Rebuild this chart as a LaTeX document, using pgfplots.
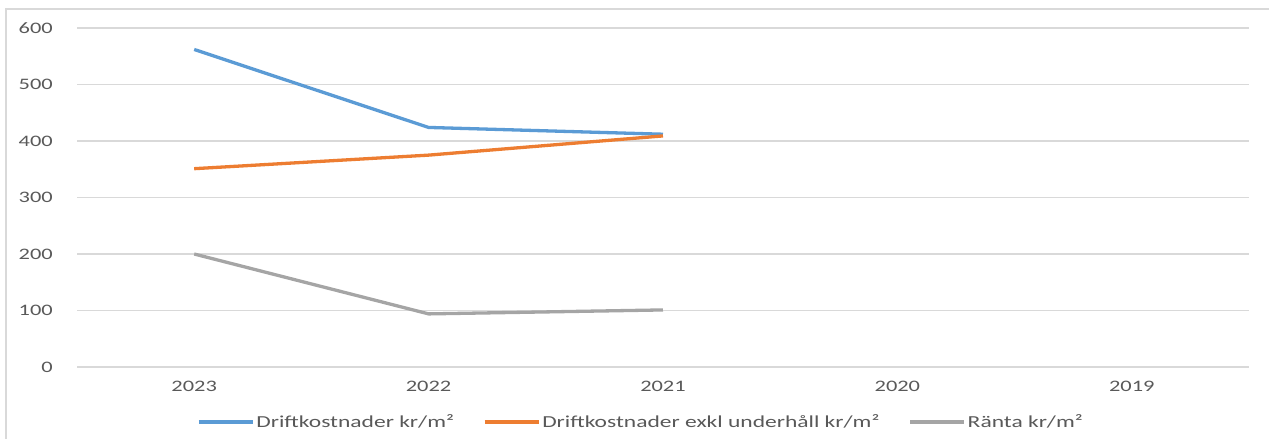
\documentclass[border=0pt]{standalone}
\usepackage{pgfplots}
\pgfplotsset{compat=1.18}
\usepackage{fontspec}
\setmainfont[FakeStretch=1.4]{Carlito}
\definecolor{cblue}{HTML}{5B9BD5}
\definecolor{corange}{HTML}{ED7D31}
\definecolor{cgray}{HTML}{A5A5A5}
\definecolor{gridc}{HTML}{D9D9D9}
\definecolor{labc}{HTML}{595959}
\begin{document}
\begin{tikzpicture}
\path[use as bounding box] (0,0) rectangle (1269pt,439pt);
\draw[color=gridc, line width=1.5pt] (6pt,-20pt) -- (6pt,430pt) -- (1300pt,430pt);
\begin{axis}[
  at={(77pt,72pt)}, anchor=south west, scale only axis,
  width=1172pt, height=339pt,
  xmin=-0.5, xmax=4.5, ymin=0, ymax=600,
  xtick={0,1,2,3,4}, xticklabels={2023,2022,2021,2020,2019},
  ytick={0,100,...,600},
  ymajorgrids, grid style={color=gridc, line width=1.3pt},
  axis line style={draw=none},
  major tick length=0pt,
  /pgf/number format/assume math mode=true,
  tick label style={font=\fontsize{16}{19}\selectfont, text=labc, inner sep=0pt},
  yticklabel style={anchor=east, xshift=-24pt},
  xticklabel style={anchor=north, yshift=-14pt},
  legend columns=3,
  legend style={at={(0.4812,-0.1622)}, anchor=center, draw=none, fill=none,
    font=\fontsize{16.8}{19}\selectfont, text=labc,
    /tikz/every even column/.append style={column sep=27pt}},
  legend image code/.code={\draw[#1] (0pt,0pt) -- (54pt,0pt);},
  every axis plot/.append style={line width=3.3pt, line join=round},
]
\addplot[color=cblue] coordinates {(0,562) (1,424) (2,412)};
\addlegendentry{Driftkostnader kr/m²}
\addplot[color=corange] coordinates {(0,351) (1,375) (2,409)};
\addlegendentry{Driftkostnader exkl underhåll kr/m²}
\addplot[color=cgray] coordinates {(0,200) (1,94) (2,101)};
\addlegendentry{Ränta kr/m²}
\end{axis}
\end{tikzpicture}
\end{document}
